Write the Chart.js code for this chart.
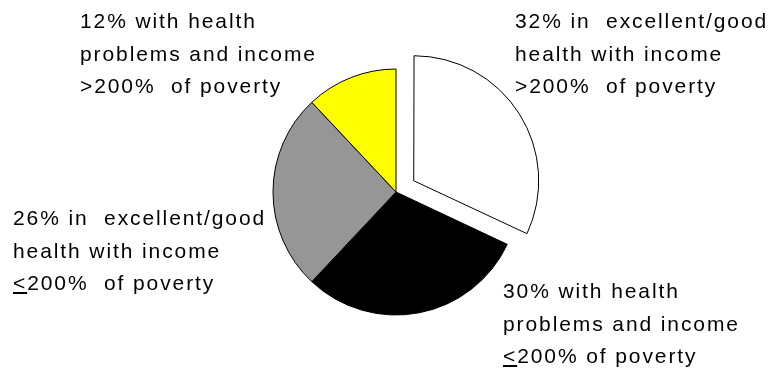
<!DOCTYPE html>
<html>
<head>
<meta charset="utf-8">
<script src="https://cdn.jsdelivr.net/npm/chart.js@4"></script>
<style>
  html, body { margin: 0; padding: 0; background: #fff; }
  #wrap { position: relative; width: 769px; height: 370px; overflow: hidden; }
  #pie { position: absolute; left: 0; top: 0; }
  .lbl {
    position: absolute;
    font-family: "Liberation Sans", Arial, sans-serif;
    font-size: 21px;
    line-height: 32.5px;
    letter-spacing: 1.9px;
    color: #000;
    white-space: pre;
  }
</style>
</head>
<body>
<div id="wrap">
  <canvas id="pie" width="769" height="370"></canvas>
  <div class="lbl" style="left:80px; top:5px;">12% with health
problems and income
&gt;200%  of poverty</div>
  <div class="lbl" style="left:515px; top:5px;">32% in  excellent/good
health with income
&gt;200%  of poverty</div>
  <div class="lbl" style="left:13px; top:202px;">26% in  excellent/good
health with income
<u>&lt;</u>200%  of poverty</div>
  <div class="lbl" style="left:503px; top:275px;">30% with health
problems and income
<u>&lt;</u>200% of poverty</div>
</div>
<script>
// slices go clockwise from 12 o'clock
const categories = [
    'In excellent/good health, income >200% of poverty',
    'With health problems, income <=200% of poverty',
    'In excellent/good health, income <=200% of poverty',
    'With health problems, income >200% of poverty',
];
const shares = [32, 30, 26, 12];
const sliceColors = ['#ffffff', '#000000', '#969696', '#ffff00'];
// chart.js moves an arc by offset / 4, so 84 pulls the white slice out ~21px
const sliceOffsets = [84, 0, 0, 0];

const ctx = document.getElementById('pie').getContext('2d');
new Chart(ctx, {
    type: 'pie',
    data: {
        labels: categories,
        datasets: [
            {
                data: shares,
                backgroundColor: sliceColors,
                borderColor: '#000000',
                borderWidth: 1,
                offset: sliceOffsets,
                hoverOffset: 0,
            },
        ],
    },
    options: {
        responsive: false,
        animation: false,
        radius: 123,
        layout: {
            padding: { left: 23, right: 0, top: 14, bottom: 0 },
        },
        plugins: {
            legend: { display: false },
            tooltip: { enabled: false },
        },
    },
});
</script>
</body>
</html>
